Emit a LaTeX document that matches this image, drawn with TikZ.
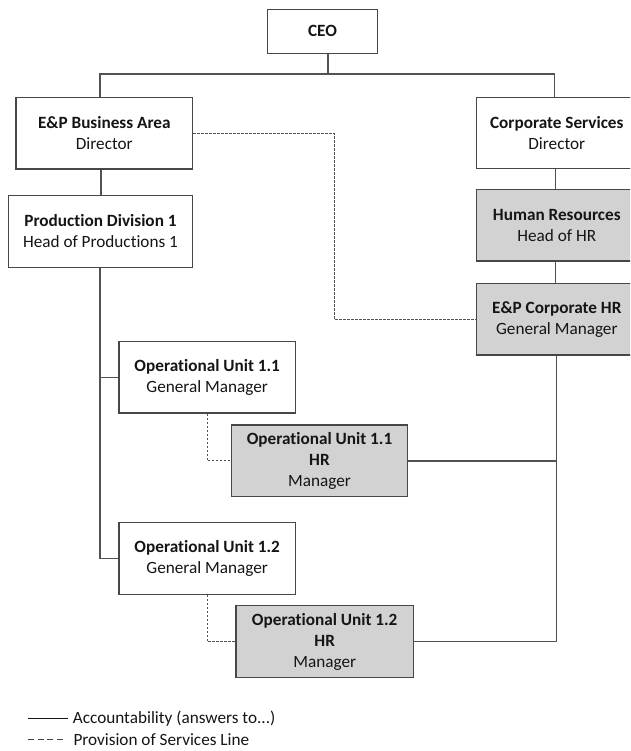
\documentclass[tikz,border=0pt]{standalone}
\usepackage{fontspec}
\setmainfont{Carlito}[Ligatures=NoCommon]
\usetikzlibrary{calc}

\definecolor{boxline}{HTML}{474747}
\definecolor{linkline}{HTML}{525252}
\definecolor{hrfill}{HTML}{D2D2D2}
\definecolor{ink}{HTML}{151515}

\tikzset{
  orgbox/.style={draw=boxline, line width=1.25pt, fill=white, inner sep=0pt,
    align=center, text=ink, font=\fontsize{17.2}{21}\selectfont},
  hrbox/.style={orgbox, fill=hrfill},
  report/.style={draw=linkline, line width=1.25pt},
  service/.style={draw=linkline, line width=1pt, dash pattern=on 2.4pt off 1.6pt},
  legendtext/.style={anchor=west, inner sep=0pt, text=ink,
    font=\fontsize{17.2}{21}\selectfont}
}

\begin{document}
\begin{tikzpicture}[x=1pt, y=-1pt]
\useasboundingbox (0,0) rectangle (630,751);
\clip (0,0) rectangle (630,751);

% boxes
\node[orgbox, minimum width=110.4pt, minimum height=44pt] (ceo) at (322.5,31.3) {\textbf{CEO}};
\node[orgbox, minimum width=176.7pt, minimum height=71.7pt] (epba) at (104.3,133.2)
  {\textbf{E\&P Business Area}\\Director};
\node[orgbox, minimum width=160pt, minimum height=70.6pt] (cs) at (556.8,133)
  {\textbf{Corporate Services}\\Director};
\node[orgbox, minimum width=184.4pt, minimum height=71.6pt] (prod) at (100.5,231.5)
  {\textbf{Production Division 1}\\Head of Productions 1};
\node[hrbox, minimum width=160pt, minimum height=71.3pt] (hr) at (556.8,225.3)
  {\textbf{Human Resources}\\Head of HR};
\node[hrbox, minimum width=160pt, minimum height=71.7pt] (echr) at (556.8,319.2)
  {\textbf{E\&P Corporate HR}\\General Manager};
\node[orgbox, minimum width=176.3pt, minimum height=71.3pt] (ou1) at (207.2,377.3)
  {\textbf{Operational Unit 1.1}\\General Manager};
\node[hrbox, minimum width=176.4pt, minimum height=71.7pt] (ou1hr) at (319.5,460.9)
  {\textbf{Operational Unit 1.1}\\\textbf{HR}\\Manager};
\node[orgbox, minimum width=176.3pt, minimum height=71.6pt] (ou2) at (207.2,558.5)
  {\textbf{Operational Unit 1.2}\\General Manager};
\node[hrbox, minimum width=177.3pt, minimum height=72pt] (ou2hr) at (324.7,641.7)
  {\textbf{Operational Unit 1.2}\\\textbf{HR}\\Manager};

% routing points
\coordinate (bus) at (328,74);
\coordinate (busl) at (100,74);
\coordinate (busr) at (554.3,74);
\coordinate (drop) at (101,0);
\coordinate (spine) at (100,0);
\coordinate (hrx) at (555.5,0);
\coordinate (hrspine) at (556.7,0);
\coordinate (svc) at (334,0);

% accountability lines
\draw[report] (ceo.south -| bus) -- (bus);
\draw[report] (epba.north -| busl) -- (busl) -- (busr) -- (cs.north -| busr);
\draw[report] (epba.south -| drop) -- (prod.north -| drop);
\draw[report] (prod.south -| spine) |- (ou2.west);
\draw[report] (spine |- ou1.west) -- (ou1.west);
\draw[report] (cs.south -| hrx) -- (hr.north -| hrx);
\draw[report] (hr.south -| hrx) -- (echr.north -| hrx);
\draw[report] (echr.south -| hrspine) |- (ou2hr.east);
\draw[report] (hrspine |- ou1hr.east) -- (ou1hr.east);

% provision of services lines
\draw[service] (epba.east) -- (epba.east -| svc) -- (svc |- echr.west) -- (echr.west);
\draw[service] (ou1.south) |- (ou1hr.west);
\draw[service] (ou2.south) |- (ou2hr.west);

% legend
\coordinate (la) at (28.3,718.3);
\coordinate (lb) at (67.7,718.3);
\coordinate (lc) at (28,739.3);
\coordinate (ld) at (63,739.3);
\draw[draw=ink, line width=1.2pt] (la) -- (lb);
\draw[draw=ink!80, line width=1.6pt, dash pattern=on 6pt off 3.6pt] (lc) -- (ld);
\node[legendtext] (lacc) at (72.7,718.3) {Accountability (answers to...)};
\node[legendtext] (lsvc) at (73.3,739.3) {Provision of Services Line};
\end{tikzpicture}
\end{document}
